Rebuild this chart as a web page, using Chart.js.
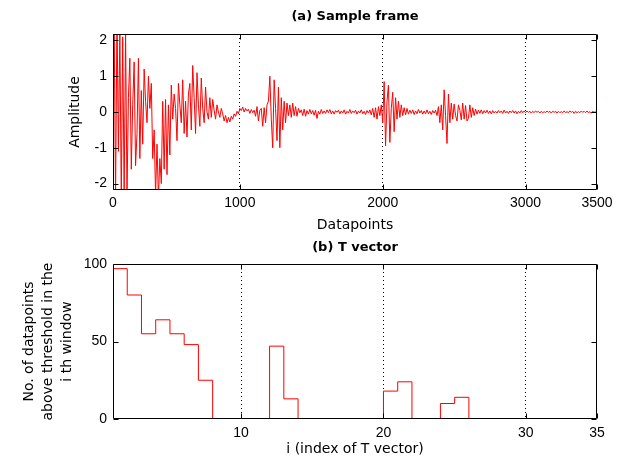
<!DOCTYPE html>
<html>
<head>
<meta charset="utf-8">
<script src="https://cdn.jsdelivr.net/npm/chart.js@4.4.1/dist/chart.umd.min.js"></script>
<style>
    html, body { margin: 0; padding: 0; background: #fff; }
    #wrap { position: relative; width: 621px; height: 463px; overflow: hidden; }
    .box { position: absolute; left: 0; width: 621px; }
    #boxA { top: 0; height: 240px; }
    #boxB { top: 231px; height: 232px; }
</style>
</head>
<body>
<div id="wrap">
    <div class="box" id="boxB"><canvas id="tChart"></canvas></div>
    <div class="box" id="boxA"><canvas id="frameChart"></canvas></div>
</div>

<script>

// ---------------- DATA ----------------

// (a) sample frame, one value every 10 datapoints (0, 10, 20 ... 3490)
const sampleStep = 10;

const amplitude = [
    2.9, -2.8, 2.6, -3.0, 2.8, -2.5, 3.0, -2.7, 2.4, -2.9,
    2.7, -2.6, 2.5, -2.4, 2.8, -1.1, 2.3, -2.5, 2.1, -2.3,
    2.2, -2.3, 0.4, 1.5, -1.6, 0.2, 1.4, -1.5, -0.6, 1.5,
    -1.3, 0.6, -0.9, 1.2, 0.3, -0.3, 1.0, 0.1, 0.8, -1.3,
    -0.5, -2.3, -0.9, -2.4, -1.3, -2.0, 0.3, -1.6, 0.35, -1.75,
    0.2, -1.2, 0.75, -0.2, 0.5, 0.1, -0.8, 0.8, 0.2, -0.3,
    0.9, -0.6, 0.3, -0.7, 0.5, 0.8, -0.5, 1.3, 0.4, -0.6,
    1.1, 0.2, -0.4, 0.95, 0.1, -0.3, 0.7, 0.0, -0.2, 0.4,
    -0.15, 0.35, 0.05, -0.2, 0.2, 0.0, -0.15, 0.1, -0.05, -0.25,
    -0.1, -0.3, -0.15, -0.28, -0.12, -0.2, -0.05, -0.12, 0.02, -0.05,
    0.1, 0.04, 0.14, 0.0, 0.1, 0.03, 0.08, -0.04, 0.07, -0.02,
    0.05, -0.12, 0.15, -0.25, 0.05, 0.1, -0.4, 0.12, -0.3, 0.2,
    0.3, 1.0, -0.2, -1.0, 0.9, 0.1, -0.8, 0.7, -1.0, 0.4,
    -0.5, 0.3, -0.3, 0.25, -0.1, 0.2, -0.15, 0.25, -0.1, 0.15,
    -0.12, 0.1, -0.02, 0.06, -0.1, 0.08, -0.12, 0.04, -0.06, 0.07,
    -0.05, 0.04, -0.09, 0.05, -0.18, 0.02, -0.06, 0.07, -0.04, 0.03,
    -0.04, 0.06, -0.02, 0.07, -0.05, 0.03, -0.06, 0.04, -0.01, 0.05,
    -0.05, 0.03, -0.03, 0.06, -0.06, 0.02, -0.03, 0.07, -0.04, 0.03,
    -0.02, 0.05, -0.06, 0.03, -0.03, 0.06, -0.05, 0.02, -0.07, 0.04,
    -0.03, 0.06, -0.08, 0.1, -0.15, 0.12, -0.2, 0.15, -0.1, 0.2,
    -0.3, 0.85, -0.95, 0.3, 0.75, -0.85, 0.1, 0.55, -0.55, 0.4,
    -0.2, 0.3, -0.15, 0.2, -0.1, 0.12, -0.08, 0.1, -0.06, 0.05,
    -0.04, 0.06, -0.07, 0.03, -0.05, 0.07, -0.03, 0.04, -0.06, 0.03,
    -0.05, 0.06, -0.05, 0.02, -0.07, 0.04, -0.03, 0.05, -0.1, 0.15,
    -0.3, 0.2, -0.5, 0.62, -0.1, -0.88, 0.5, -0.3, 0.25, -0.2,
    0.22, -0.1, -0.25, 0.2, 0.05, -0.22, 0.25, -0.2, 0.18, -0.25,
    -0.18, 0.2, -0.15, 0.12, -0.1, 0.08, -0.06, 0.05, -0.04, 0.06,
    -0.05, 0.04, -0.03, 0.05, -0.04, 0.03, -0.05, 0.04, -0.03, 0.02,
    -0.03, 0.04, -0.02, 0.03, -0.04, 0.05, -0.03, 0.02, -0.04, 0.03,
    -0.02, 0.04, -0.03, 0.03, -0.05, 0.02, -0.03, 0.04, -0.02, 0.03,
    -0.02, 0.03, -0.01, 0.02, -0.03, 0.02, -0.02, 0.03, -0.01, 0.02,
    -0.03, 0.02, -0.02, 0.01, -0.02, 0.03, -0.01, 0.02, -0.03, 0.02,
    -0.01, 0.02, -0.03, 0.02, -0.02, 0.01, -0.02, 0.03, -0.02, 0.01,
    -0.02, 0.03, -0.01, 0.02, -0.04, 0.02, -0.02, 0.01, -0.02, 0.03,
    -0.01, 0.02, -0.02, 0.03, -0.02, 0.01, -0.03, 0.02, -0.01, 0.02
];

const frameTicks = [0, 1000, 2000, 3000, 3500];
const frameGrid = [1000, 2000, 3000];
const amplitudeTicks = [-2, -1, 0, 1, 2];

// (b) T vector
const tIndex = [
    1, 2, 3, 4, 5, 6, 7, 8, 9, 10, 11, 12, 13, 14, 15, 16, 17,
    18, 19, 20, 21, 22, 23, 24, 25, 26, 27, 28, 29, 30, 31, 32, 33, 34
];

const tVector = [
    97, 80, 55, 64, 55, 48, 25, 0, 0, 0, 0, 47, 13, 0, 0, 0, 0,
    0, 0, 18, 24, 0, 0, 10, 14, 0, 0, 0, 0, 0, 0, 0, 0, 0
];

const tTicks = [10, 20, 30, 35];
const tGrid = [10, 20, 30];
const countTicks = [0, 50, 100];

// ---------------- STYLE ----------------

Chart.defaults.color = "#000";
Chart.defaults.animation = false;

const tickFont = { family: "Liberation Sans, Arial", size: 14 };
const labelFont = { family: "DejaVu Sans", size: 14 };
const titleFont = { family: "DejaVu Sans", size: 13, weight: "bold" };

// black box + short inward ticks, like matlab axes
const axesBox = {
    id: "axesBox",
    afterDatasetsDraw(chart) {
        const { ctx, chartArea: a, scales } = chart;
        const left = Math.round(a.left) + 0.5;
        const right = Math.round(a.right) - 0.5;
        const top = Math.round(a.top) + 0.5;
        const bottom = Math.round(a.bottom) - 0.5;

        ctx.save();
        ctx.strokeStyle = "#000";
        ctx.lineWidth = 1;
        ctx.beginPath();

        scales.x.ticks.forEach(t => {
            const px = Math.round(scales.x.getPixelForValue(t.value)) + 0.5;
            ctx.moveTo(px, bottom); ctx.lineTo(px, bottom - 5);
            ctx.moveTo(px, top); ctx.lineTo(px, top + 5);
        });

        scales.y.ticks.forEach(t => {
            const py = Math.round(scales.y.getPixelForValue(t.value)) + 0.5;
            ctx.moveTo(left, py); ctx.lineTo(left + 5, py);
            ctx.moveTo(right, py); ctx.lineTo(right - 5, py);
        });

        ctx.rect(left, top, right - left, bottom - top);
        ctx.stroke();
        ctx.restore();
    }
};

function fixedTicks(list) {
    return scale => {
        scale.ticks = list.map(v => ({ value: Math.min(Math.max(v, scale.min), scale.max) }));
    };
}

function dottedGrid(list) {
    return ctx => (ctx.tick && list.includes(ctx.tick.value)) ? "#000" : "rgba(0,0,0,0)";
}

// ---------------- SAMPLE FRAME ----------------

const framePoints = amplitude.map((v, i) => ({ x: i * sampleStep, y: v }));

new Chart(document.getElementById("frameChart"), {
    type: "line",
    data: {
        datasets: [{
            data: framePoints,
            borderColor: "#ff0000",
            borderWidth: 1,
            pointRadius: 0,
            tension: 0
        }]
    },
    options: {
        responsive: true,
        maintainAspectRatio: false,
        layout: { padding: { left: 0, right: 24, top: 0, bottom: 0 } },
        plugins: {
            legend: { display: false },
            tooltip: { enabled: false },
            title: {
                display: true,
                text: "(a) Sample frame",
                font: titleFont,
                fullSize: false,
                padding: { top: 9, bottom: 9.4 }
            }
        },
        scales: {
            x: {
                type: "linear",
                min: 112,
                max: 3500,
                afterBuildTicks: fixedTicks(frameTicks),
                afterFit: s => { s.height = 50; },
                ticks: {
                    font: tickFont,
                    padding: 4.3,
                    maxRotation: 0,
                    callback: (v, i) => frameTicks[i]
                },
                grid: { color: dottedGrid(frameGrid), drawTicks: false },
                border: { display: false, dash: [1, 3] },
                title: {
                    display: true,
                    text: "Datapoints",
                    font: labelFont,
                    padding: { top: 0, bottom: 6.6 }
                }
            },
            y: {
                min: -2.18,
                max: 2.18,
                afterBuildTicks: fixedTicks(amplitudeTicks),
                afterFit: s => { s.width = 113; },
                ticks: { font: tickFont, padding: 6 },
                grid: { display: false, drawTicks: false },
                border: { display: false },
                title: {
                    display: true,
                    text: "Amplitude",
                    font: labelFont,
                    padding: { top: 66.6, bottom: 0 }
                }
            }
        }
    },
    plugins: [axesBox]
});

// ---------------- T VECTOR ----------------

const tPoints = tIndex.map((v, i) => ({ x: v, y: tVector[i] }));

new Chart(document.getElementById("tChart"), {
    type: "line",
    data: {
        datasets: [{
            data: tPoints,
            borderColor: "#ff0000",
            borderWidth: 1,
            pointRadius: 0,
            stepped: "before",
            clip: 0
        }]
    },
    options: {
        responsive: true,
        maintainAspectRatio: false,
        layout: { padding: { left: 0, right: 24, top: 0, bottom: 0 } },
        plugins: {
            legend: { display: false },
            tooltip: { enabled: false },
            title: {
                display: true,
                text: "(b) T vector",
                font: titleFont,
                fullSize: false,
                padding: { top: 9, bottom: 8.4 }
            }
        },
        scales: {
            x: {
                type: "linear",
                min: 1,
                max: 35,
                afterBuildTicks: fixedTicks(tTicks),
                afterFit: s => { s.height = 44; },
                ticks: { font: tickFont, padding: 5.3, maxRotation: 0 },
                grid: { color: dottedGrid(tGrid), drawTicks: false },
                border: { display: false, dash: [1, 3] },
                title: {
                    display: true,
                    text: "i (index of T vector)",
                    font: labelFont,
                    padding: { top: 0, bottom: 5.6 }
                }
            },
            y: {
                min: 0,
                max: 100,
                afterBuildTicks: fixedTicks(countTicks),
                afterFit: s => { s.width = 113; },
                ticks: { font: tickFont, padding: 6 },
                grid: { display: false, drawTicks: false },
                border: { display: false },
                title: {
                    display: true,
                    text: ["No. of datapoints", "above threshold in the", "i th window"],
                    font: { family: "DejaVu Sans", size: 14, lineHeight: 1.357 },
                    padding: { top: 19.5, bottom: 0 }
                }
            }
        }
    },
    plugins: [axesBox]
});

</script>
</body>
</html>
